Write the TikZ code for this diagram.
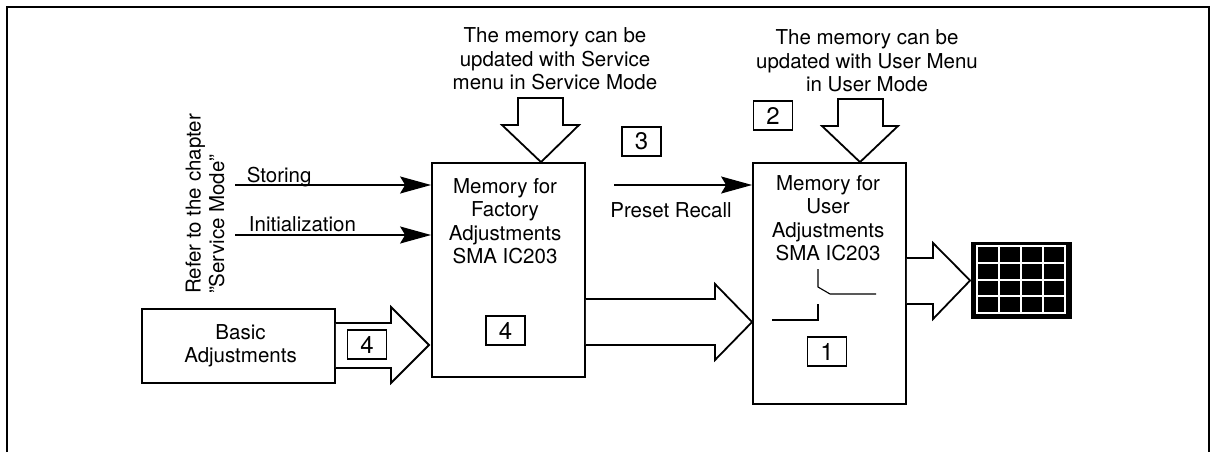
\documentclass[tikz,border=0pt]{standalone}
\usepackage{fontspec}
\setmainfont{TeX Gyre Heros}
\usetikzlibrary{arrows.meta,calc}
\begin{document}
\begin{tikzpicture}[x=1pt,y=-1pt,
  line width=1.8pt,
  txt/.style={font=\fontsize{20.5}{23.5}\selectfont, align=center, inner sep=0pt},
  membox/.style={draw, minimum width=153pt, inner sep=0pt},
  numbox/.style={draw, font=\fontsize{24}{26}\selectfont, minimum width=39pt, minimum height=29pt, inner sep=0pt},
  hollow/.style={draw, fill=white, line join=miter},
  thinarrow/.style={-{Stealth[length=31pt,width=17pt,inset=5pt]}, line width=1.6pt},
  switchline/.style={line width=1.1pt}
]
\useasboundingbox (0,0) rectangle (1214,452);
% outer frame (open at bottom)
\draw (7,452) -- (7,7) -- (1209,7) -- (1209,452);

% boxes
\node[membox, minimum height=214pt] (fac) at (508.5,270) {};
\node[membox, minimum height=241pt] (usr) at (829.5,283.5) {};
\node[draw, minimum width=193pt, minimum height=74pt, inner sep=0pt] (basic) at (238.5,346) {};

\node[txt] (factxt) at (505,221) {Memory for\\Factory\\Adjustments\\SMA IC203};
\node[txt] (usrtxt) at (828,218) {Memory for\\User\\Adjustments\\SMA IC203};
\node[txt] (basictxt) at (240.5,346) {Basic\\Adjustments};

% top texts
\node[txt] (svc) at (555,59) {The memory can be\\updated with Service\\menu in Service Mode};
\node[txt] (usrmode) at (867,61) {The memory can be\\updated with User Menu\\in User Mode};

% rotated text
\node[txt, align=left, rotate=90] (refer) at (205,204) {Refer to the chapter\\”Service Mode”};

% number boxes
\node[numbox] (n2) at (773,115.5) {2};
\node[numbox] (n3) at (641.5,141.5) {3};
\node[numbox] (n4a) at (505.5,330.5) {4};
\node[numbox] (n4b) at (367,344.5) {4};
\node[numbox] (n1) at (827,351.5) {1};

% down hollow arrows
\draw[hollow] (518,98) -- (563,98) -- (563,125) -- (579,125) -- (fac.north -| 541,0) -- (502,125) -- (518,125) -- cycle;
\draw[hollow] (838,99) -- (883,99) -- (883,126) -- (898,126) -- (usr.north -| 860,0) -- (822,126) -- (838,126) -- cycle;

% thin arrows
\coordinate (s0) at (235,185);
\coordinate (i0) at (235,235);
\coordinate (p0) at (614,185);
\draw[thinarrow] (s0) -- (s0 -| fac.west);
\draw[thinarrow] (i0) -- (i0 -| fac.west);
\draw[thinarrow] (p0) -- (p0 -| usr.west);
\node[txt, anchor=base west] (storing) at (246,182) {Storing};
\node[txt, anchor=base west] (init) at (248,231) {Initialization};
\node[txt, anchor=base] (preset) at (671,217) {Preset Recall};

% horizontal hollow arrows
\draw[hollow] (basic.east |- 0,323) -- (391,323) -- (391,307) -- (429,345) -- (391,383) -- (391,368) -- (basic.east |- 0,368);
\draw[hollow] (fac.east |- 0,299) -- (715,299) -- (715,284) -- (usr.west |- 0,322) -- (715,360) -- (715,345) -- (fac.east |- 0,345);
% redraw number box over arrow
\node[numbox, fill=white] at (n4b) {4};

% display
\node[fill=black, minimum width=101pt, minimum height=77pt, inner sep=0pt] (disp) at (1021.5,280.5) {};
\draw[hollow] (usr.east |- 0,258) -- (933,258) -- (933,243) -- (disp.west) -- (933,319) -- (933,304) -- (usr.east |- 0,304);
\draw[white, line width=2pt] (977,246) rectangle (1065,313);
\foreach \i in {1,2,3} {
  \draw[white, line width=2pt] (977+22*\i,246) -- (977+22*\i,313);
  \draw[white, line width=2pt] (977,246+16.75*\i) -- (1065,246+16.75*\i);
}

% switch symbol
\draw[switchline] (818,269) -- (818,287) -- (830,294) -- (876,294);
\draw[switchline] (818,304) -- (818,320) -- (772,320);
\end{tikzpicture}
\end{document}
